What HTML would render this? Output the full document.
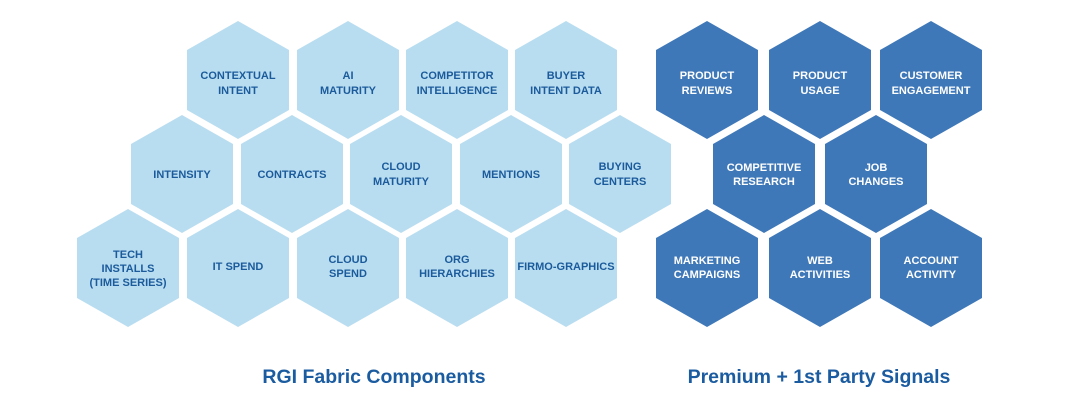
<!DOCTYPE html>
<html><head><meta charset="utf-8"><style>
html,body{margin:0;padding:0;background:#fff;}
svg{display:block}
text{font-family:"Liberation Sans",sans-serif;font-weight:bold;text-anchor:middle}
.l{fill:#b9ddf0}.d{fill:#3f78b8}
.lt{fill:#1b5b9c;font-size:11px}.dt{fill:#fff;font-size:11px}
.t{fill:#1b5ca1;font-size:19.5px}
</style></head><body>
<svg width="1080" height="405" viewBox="0 0 1080 405" xmlns="http://www.w3.org/2000/svg">
<defs><polygon id="h" points="0,-59 51,-30 51,30 0,59 -51,30 -51,-30"/></defs>
<g class="l">
<use href="#h" x="238" y="80"/><use href="#h" x="348" y="80"/><use href="#h" x="457" y="80"/><use href="#h" x="566" y="80"/>
<use href="#h" x="182" y="174"/><use href="#h" x="292" y="174"/><use href="#h" x="401" y="174"/><use href="#h" x="511" y="174"/><use href="#h" x="620" y="174"/>
<use href="#h" x="128" y="268"/><use href="#h" x="238" y="268"/><use href="#h" x="348" y="268"/><use href="#h" x="457" y="268"/><use href="#h" x="566" y="268"/>
</g>
<g class="d">
<use href="#h" x="707" y="80"/><use href="#h" x="820" y="80"/><use href="#h" x="931" y="80"/>
<use href="#h" x="764" y="174"/><use href="#h" x="876" y="174"/>
<use href="#h" x="707" y="268"/><use href="#h" x="820" y="268"/><use href="#h" x="931" y="268"/>
</g>
<g class="lt">
<text x="238" y="79">CONTEXTUAL</text><text x="238" y="94">INTENT</text>
<text x="348" y="79">AI</text><text x="348" y="94">MATURITY</text>
<text x="457" y="79">COMPETITOR</text><text x="457" y="94">INTELLIGENCE</text>
<text x="566" y="79">BUYER</text><text x="566" y="94">INTENT DATA</text>
<text x="182" y="178">INTENSITY</text>
<text x="292" y="178">CONTRACTS</text>
<text x="401" y="170">CLOUD</text><text x="401" y="185">MATURITY</text>
<text x="511" y="178">MENTIONS</text>
<text x="620" y="170">BUYING</text><text x="620" y="185">CENTERS</text>
<text x="128" y="258">TECH</text><text x="128" y="272">INSTALLS</text><text x="128" y="286">(TIME SERIES)</text>
<text x="238" y="270">IT SPEND</text>
<text x="348" y="263">CLOUD</text><text x="348" y="277">SPEND</text>
<text x="457" y="263">ORG</text><text x="457" y="277">HIERARCHIES</text>
<text x="566" y="270">FIRMO-GRAPHICS</text>
</g>
<g class="dt">
<text x="707" y="79">PRODUCT</text><text x="707" y="94">REVIEWS</text>
<text x="820" y="79">PRODUCT</text><text x="820" y="94">USAGE</text>
<text x="931" y="79">CUSTOMER</text><text x="931" y="94">ENGAGEMENT</text>
<text x="764" y="171">COMPETITIVE</text><text x="764" y="185">RESEARCH</text>
<text x="876" y="171">JOB</text><text x="876" y="185">CHANGES</text>
<text x="707" y="264">MARKETING</text><text x="707" y="278">CAMPAIGNS</text>
<text x="820" y="264">WEB</text><text x="820" y="278">ACTIVITIES</text>
<text x="931" y="264">ACCOUNT</text><text x="931" y="278">ACTIVITY</text>
</g>
<text class="t" x="374" y="383">RGI Fabric Components</text>
<text class="t" x="819" y="383">Premium + 1st Party Signals</text>
</svg>
</body></html>
